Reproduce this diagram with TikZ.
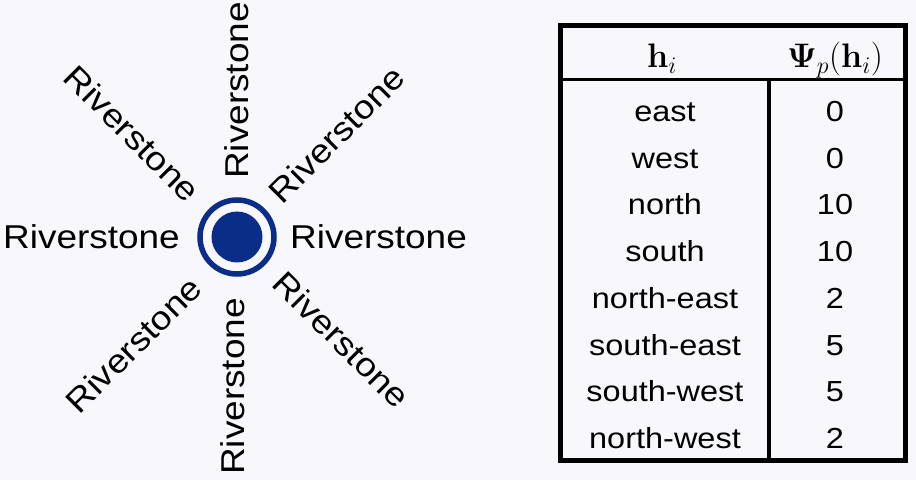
\RequirePackage{fix-cm}
\documentclass[tikz,border=0pt]{standalone}
\usepackage[no-math]{fontspec}
\usepackage{amsmath}
\usetikzlibrary{positioning}

\newfontfamily\labelfont[FakeStretch=1.12]{Liberation Sans}
\definecolor{stoneblue}{RGB}{10,45,135}
\definecolor{paper}{RGB}{248,248,252}

\tikzset{
  dirlabel/.style={font=\labelfont\fontsize{33}{36}\selectfont, inner sep=0pt},
  cell/.style={font=\labelfont\fontsize{29}{32}\selectfont, inner sep=0pt, anchor=base},
  headcell/.style={font=\fontsize{34}{40}\selectfont, inner sep=0pt, anchor=base}
}

\begin{document}
\begin{tikzpicture}[x=1pt, y=1pt]
	\useasboundingbox (0,0) rectangle (916,480);
	\fill[paper] (0,0) rectangle (916,480);

	% the stone
	\node (stone) [circle, draw=stoneblue, line width=5.5pt, minimum size=74pt, inner sep=0pt] at (237,243) {};
	\node (core) [circle, fill=stoneblue, minimum size=51pt, inner sep=0pt] at (stone) {};

	% labels round the stone
	\node (lblE) [dirlabel, right=53pt of stone.center] {Riverstone};
	\node (lblW) [dirlabel, left=57pt of stone.center] {Riverstone};
	\node (lblN) [dirlabel, above=58pt of stone.center, anchor=west, rotate=90] {Riverstone};
	\node (lblS) [dirlabel, below=61pt of stone.center, xshift=-4pt, anchor=east, rotate=90] {Riverstone};
	\node (lblNE) [dirlabel, above right=40pt and 37pt of stone.center, anchor=west, rotate=45] {Riverstone};
	\node (lblNW) [dirlabel, above left=41pt and 42pt of stone.center, anchor=east, rotate=-45] {Riverstone};
	\node (lblSE) [dirlabel, below right=40pt and 42pt of stone.center, anchor=west, rotate=-45] {Riverstone};
	\node (lblSW) [dirlabel, below left=45pt and 41pt of stone.center, anchor=east, rotate=45] {Riverstone};

	% table
	\draw[line width=5pt] (560.5,20) rectangle (905.5,454);
	\draw[line width=3pt] (560.5,400.5) -- (905.5,400.5);
	\draw[line width=3.5pt] (769,400.5) -- (769,20);

	\node (headH) [headcell] at (662,412) {$\mathbf{h}_i$};
	\node (headPsi) [headcell] at (835,412) {$\boldsymbol{\Psi}_p(\mathbf{h}_i)$};

	\foreach \dir/\val [count=\i] in {east/0, west/0, north/10, south/10, north-east/2, south-east/5, south-west/5, north-west/2} {
		\node (dir\i) [cell] at (665, 405.1-46.7*\i) {\dir};
		\node (val\i) [cell] at (835, 405.1-46.7*\i) {\val};
	}
\end{tikzpicture}
\end{document}
